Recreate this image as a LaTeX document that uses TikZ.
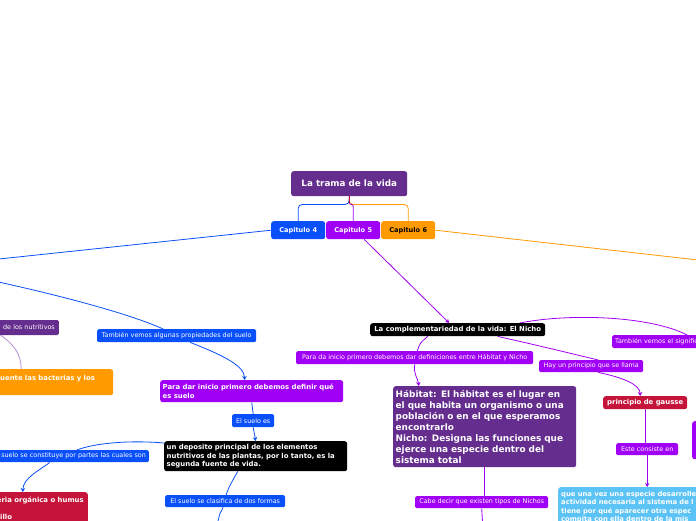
\documentclass[tikz,border=0pt]{standalone}
\usepackage{fontspec}
\setmainfont{DejaVu Sans}
\usetikzlibrary{arrows.meta,backgrounds}
\definecolor{capblue}{HTML}{0A50FA}
\definecolor{capviolet}{HTML}{A000F5}
\definecolor{caporange}{HTML}{FF9A00}
\definecolor{plum}{HTML}{652D8E}
\definecolor{crimson}{HTML}{C4143A}
\definecolor{sky}{HTML}{5BC3F5}
\definecolor{lilac}{HTML}{B48ED6}

\begin{document}
\begin{tikzpicture}[x=1pt, y=-1pt,
  topic/.style={rounded corners=2.5pt, anchor=north west, text=white, align=left,
                inner xsep=3pt, inner ysep=0pt, font=\fontsize{6.9}{8.5}\selectfont\bfseries},
  chap/.style={topic, minimum width=54pt, minimum height=18pt, align=center,
               font=\fontsize{6.6}{8}\selectfont\bfseries},
  lbl/.style={rounded corners=1.5pt, anchor=north west, text=white, inner xsep=2pt,
              inner ysep=0pt, font=\fontsize{6.4}{8}\selectfont},
  link/.style={line width=0.8pt},
  arr/.style={link, -{Stealth[length=4pt, width=4.5pt]}},
]
  \useasboundingbox (0,0) rectangle (696,520);
  \clip (0,0) rectangle (696,520);

  % central topic and chapters
  \node[topic, fill=plum, minimum width=116pt, minimum height=25pt, align=center,
        font=\fontsize{8.8}{10}\selectfont\bfseries] (root) at (291,171) {La trama de la vida};
  \node[chap, fill=capblue] (cap4) at (271,221) {Capitulo 4};
  \node[chap, fill=capviolet] (cap5) at (326,221) {Capitulo 5};
  \node[chap, fill=caporange, text=black] (cap6) at (381,221) {Capitulo 6};

  % chapter 4 (soil)
  \node[lbl, fill=plum, anchor=east, minimum height=15pt, text width=62pt, align=right,
        inner xsep=4pt] (nutri) at (59,327.5) {de los nutritivos};
  \node[topic, fill=caporange, minimum width=116pt, minimum height=26pt, text width=110pt]
        (bact) at (-3,369) {uente las bacterias y los\\ \mbox{}};
  \node[lbl, fill=capblue, minimum width=159pt, minimum height=13pt] (tambien) at (97,329)
        {También vemos algunas propiedades del suelo};
  \node[topic, fill=capviolet, minimum width=182pt, minimum height=22pt, text width=178pt,
        inner xsep=2.5pt] (suelodef) at (160,380) {Para dar inicio primero debemos definir qué\\es suelo};
  \node[lbl, fill=capblue, minimum width=42pt, minimum height=13pt] (sueloes) at (232,414) {El suelo es};
  \node[topic, fill=black, minimum width=182pt, minimum height=30pt, text width=178pt,
        inner xsep=2.5pt] (deposito) at (164,441) {un deposito principal de los elementos\\nutritivos de las plantas, por lo tanto, es la\\segunda fuente de vida.};
  \node[lbl, fill=capblue, anchor=north east, minimum height=12pt, text width=160pt, align=right,
        inner xsep=3pt] (partes) at (149,450) {suelo se constituye por partes las cuales son};
  \node[topic, fill=crimson, anchor=north east, minimum height=32pt, minimum width=95pt,
        inner xsep=2pt] (humus) at (88,492) {eria orgánica o humus\\ \mbox{}\\tillo\hspace{60pt}};
  \node[lbl, fill=capblue, minimum width=120pt, minimum height=12pt] (clasif) at (165,495)
        {El suelo se clasifica de dos formas};

  % chapter 5 (niche)
  \node[topic, fill=black, minimum width=175pt, minimum height=13pt, align=center]
        (nicho) at (370,323) {La complementariedad de la vida: El Nicho};
  \node[lbl, fill=capviolet, minimum width=237pt, minimum height=13pt] (defs) at (296,351)
        {Para da inicio primero debemos dar definiciones entre Hábitat y Nicho};
  \node[topic, fill=plum, minimum width=182pt, minimum height=81pt, text width=178pt,
        inner xsep=2.5pt, font=\fontsize{8.9}{11}\selectfont\bfseries] (habitat) at (393,386)
        {Hábitat: El hábitat es el lugar en\\el que habita un organismo o una\\población o en el que esperamos\\encontrarlo\\Nicho: Designa las funciones que\\ejerce una especie dentro del\\sistema total};
  \node[lbl, fill=capviolet, minimum width=104pt, minimum height=12pt] (principio) at (539,360)
        {Hay un principio que se llama};
  \node[lbl, fill=capviolet, minimum width=100pt, minimum height=13pt, text width=94pt,
        align=left, inner xsep=3pt] (signif) at (612,335) {También vemos el signific};
  \node[topic, fill=crimson, minimum width=84pt, minimum height=13pt, align=center]
        (gausse) at (603,396) {principio de gausse};
  \node[lbl, fill=capviolet, minimum width=62pt, minimum height=12pt] (consiste) at (616,443)
        {Este consiste en};
  \node[lbl, fill=capviolet, minimum width=133pt, minimum height=12pt] (tipos) at (415,496)
        {Cabe decir que existen tipos de Nichos};
  \node[topic, fill=sky, minimum width=160pt, minimum height=40pt, text width=154pt,
        font=\fontsize{6.8}{8.3}\selectfont\bfseries] (gaussefact) at (558,487)
        {que una vez una especie desarrolle\\actividad necesaria al sistema de l\\tiene por qué aparecer otra espec\\compita con ella dentro de la mis};
  \node[topic, fill=capviolet, minimum width=24pt, minimum height=38pt] (sidebox) at (692,421) {};

  % loose ends leaving the view
  \coordinate (offW1) at (-20,261);
  \coordinate (offW2) at (-20,278);
  \coordinate (offS1) at (216,530);
  \coordinate (offS2) at (483,530);
  \coordinate (offE2) at (720,262.5);

  \begin{scope}[on background layer]
    \fill[white] (0,0) rectangle (696,520);
    % root to chapters
    \draw[link, capblue, rounded corners=4pt] (root.south) -- ++(0,8) -| (cap4.north);
    \draw[link, caporange, rounded corners=4pt] (root.south) -- ++(0,8) -| (cap6.north);
    \draw[link, capviolet, rounded corners=2pt] (root.south) -- ++(0,8) -| (cap5.north);
    \draw[link, crimson] (root.south) -- ++(0,7);

    % chapter 4
    \draw[link, capblue] (cap4.west) -- (offW1);
    \draw[link, capblue] (offW2) .. controls (60,295) and (130,314) .. ([xshift=-13.5pt]tambien.north);
    \draw[arr, capblue] ([xshift=13.5pt]tambien.south) .. controls (225,356) and (244,366) .. ([xshift=-7pt]suelodef.north);
    \draw[link, capblue] (suelodef.south) -- (sueloes.north);
    \draw[arr, capblue] (sueloes.south) -- (deposito.north);
    \draw[link, capblue] ([yshift=-2pt]deposito.north west) .. controls (130,440) and (95,443) .. ([xshift=11pt]partes.north);
    \draw[arr, capblue] ([xshift=-16pt]partes.south) .. controls (40,470) and (23,478) .. ([xshift=-17.5pt]humus.north);
    \draw[link, capblue] ([xshift=-18pt]deposito.south) .. controls (233,480) and (228,488) .. ([xshift=1pt]clasif.north);
    \draw[link, capblue] ([xshift=-2pt]clasif.south) .. controls (220,512) .. (offS1);
    \draw[link, lilac] ([xshift=12pt]nutri.south west) .. controls (15,345) and (21,355) .. ([xshift=-34pt]bact.north);

    % chapter 5
    \draw[arr, capviolet] ([xshift=11pt]cap5.south) -- ([xshift=-8.5pt]nicho.north);
    \draw[link, capviolet] ([xshift=62pt]nicho.north) .. controls (570,313) and (650,316) .. ([xshift=25pt]signif.north);
    \draw[link, capviolet] ([xshift=-30pt]nicho.south) .. controls (420,343) .. ([xshift=2.5pt]defs.north);
    \draw[arr, capviolet] (defs.south) .. controls (413,374) and (418,378) .. ([xshift=-66pt]habitat.north);
    \draw[link, capviolet] ([xshift=40pt]nicho.south) .. controls (540,346) .. ([xshift=7pt]principio.north);
    \draw[arr, capviolet] ([xshift=7pt]principio.south) .. controls (625,378) and (640,385) .. ([xshift=-5pt]gausse.north);
    \draw[link, capviolet] (gausse.south) -- (gausse.south |- consiste.north);
    \draw[arr, capviolet] (consiste.south) -- (consiste.south |- gaussefact.north);
    \draw[link, capviolet] (habitat.south) -- (habitat.south |- tipos.north);
    \draw[link, capviolet] (tipos.south) -- (offS2);

    % chapter 6
    \draw[link, caporange] (cap6.east) -- (offE2);
  \end{scope}
\end{tikzpicture}
\end{document}
